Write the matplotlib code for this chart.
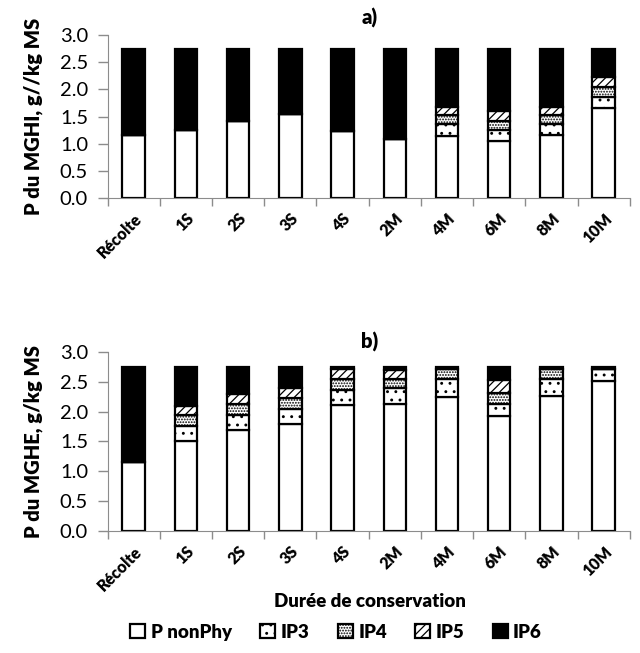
import matplotlib.pyplot as plt
import numpy as np

plt.rcParams['font.family'] = ['Lato', 'DejaVu Sans']
plt.rcParams['hatch.linewidth'] = 0.9

categories = ["Récolte", "1S", "2S", "3S", "4S", "2M", "4M", "6M", "8M", "10M"]
series_names = ["P nonPhy", "IP3", "IP4", "IP5", "IP6"]

# panel a) MGHI, segment heights
mghi_nonphy = [1.16, 1.26, 1.42, 1.54, 1.23, 1.09, 1.14, 1.04, 1.16, 1.65]
mghi_ip3 = [0.00, 0.00, 0.00, 0.00, 0.00, 0.00, 0.22, 0.22, 0.21, 0.21]
mghi_ip4 = [0.00, 0.00, 0.00, 0.00, 0.00, 0.00, 0.17, 0.16, 0.16, 0.19]
mghi_ip5 = [0.00, 0.00, 0.00, 0.00, 0.00, 0.00, 0.14, 0.18, 0.14, 0.18]
mghi_ip6 = [1.59, 1.49, 1.33, 1.21, 1.52, 1.66, 1.08, 1.15, 1.08, 0.52]

# panel b) MGHE
mghe_nonphy = [1.16, 1.50, 1.69, 1.80, 2.11, 2.13, 2.25, 1.92, 2.26, 2.52]
mghe_ip3 = [0.00, 0.26, 0.25, 0.25, 0.26, 0.26, 0.29, 0.21, 0.28, 0.20]
mghe_ip4 = [0.00, 0.18, 0.18, 0.17, 0.17, 0.16, 0.18, 0.18, 0.18, 0.00]
mghe_ip5 = [0.00, 0.15, 0.17, 0.17, 0.18, 0.15, 0.00, 0.22, 0.00, 0.00]
mghe_ip6 = [1.59, 0.66, 0.46, 0.36, 0.03, 0.05, 0.03, 0.22, 0.03, 0.03]

fills = ["white", "white", "white", "white", "black"]
hatches = [None, "..", "......", "////", None]
GREY = "#8c8c8c"
BOLD = "heavy"


def draw_panel(ax, data, ylabel):
    x = np.arange(len(categories))
    bottom = np.zeros(len(categories))
    handles = []
    for vals, name, fc, h in zip(data, series_names, fills, hatches):
        bars = ax.bar(x, vals, 0.43, bottom=bottom, color=fc, edgecolor="black",
                      linewidth=1.6, hatch=h, label=name)
        handles.append(bars)
        bottom = bottom + np.array(vals)
    ax.set_xlim(-0.5, len(categories) - 0.5)
    ax.set_ylim(0, 3.0)
    ax.set_yticks(np.arange(0, 3.01, 0.5))
    ax.yaxis.set_major_formatter(plt.FormatStrFormatter("%.1f"))
    ax.tick_params(axis="y", labelsize=14.5, color=GREY, length=7, width=1, pad=7)
    ax.set_xticks(x)
    ax.set_xticklabels(categories, rotation=45, ha="right", rotation_mode="anchor",
                       fontsize=11.5, fontweight=BOLD)
    ax.tick_params(axis="x", length=0, pad=9)
    ax.set_xticks(np.arange(-0.5, len(categories)), minor=True)
    ax.tick_params(axis="x", which="minor", length=6, color=GREY, width=1)
    for s in ["top", "right"]:
        ax.spines[s].set_visible(False)
    for s in ["left", "bottom"]:
        ax.spines[s].set_color(GREY)
    ax.set_ylabel(ylabel, fontsize=14.5, fontweight=BOLD, labelpad=12)
    return handles


fig = plt.figure(figsize=(6.4, 6.53), dpi=100)
ax1 = fig.add_axes([0.168, 0.697, 0.816, 0.249])
ax2 = fig.add_axes([0.168, 0.187, 0.816, 0.274])

draw_panel(ax1, [mghi_nonphy, mghi_ip3, mghi_ip4, mghi_ip5, mghi_ip6], "P du MGHI, g//kg MS")
handles = draw_panel(ax2, [mghe_nonphy, mghe_ip3, mghe_ip4, mghe_ip5, mghe_ip6], "P du MGHE, g/kg MS")

fig.text(0.578, 0.972, "a)", ha="center", va="center", fontsize=14.5, fontweight=BOLD)
fig.text(0.578, 0.476, "b)", ha="center", va="center", fontsize=14.5, fontweight=BOLD)
fig.text(0.578, 0.079, "Durée de conservation", ha="center", va="center",
         fontsize=13.5, fontweight=BOLD)

fig.legend(handles, series_names, loc="center", bbox_to_anchor=(0.525, 0.032), ncol=5,
           frameon=False, prop={"weight": BOLD, "size": 13.5}, handlelength=0.8,
           handleheight=0.8, handletextpad=0.3, columnspacing=1.5)

fig.savefig("out.png", dpi=100)
